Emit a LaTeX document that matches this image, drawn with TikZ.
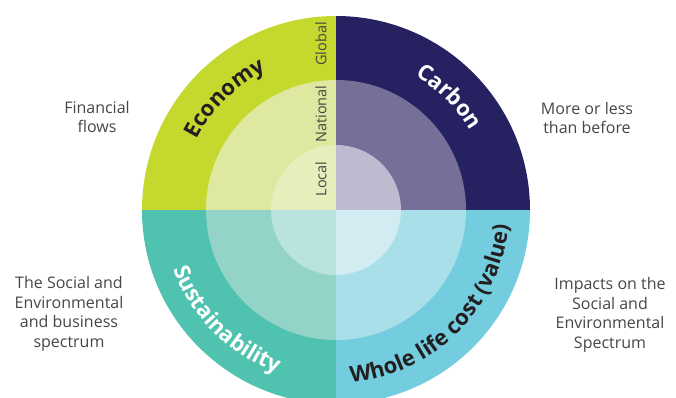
\documentclass[tikz,border=0pt]{standalone}
\usepackage{fontspec}
\setmainfont{Open Sans}
\usepackage{tikz}
\usetikzlibrary{decorations.text,positioning}
\definecolor{econouter}{RGB}{197,216,46}
\definecolor{econmid}{RGB}{223,232,160}
\definecolor{econinner}{RGB}{231,238,188}
\definecolor{carbouter}{RGB}{38,34,98}
\definecolor{carbmid}{RGB}{118,111,152}
\definecolor{carbinner}{RGB}{190,186,207}
\definecolor{sustouter}{RGB}{80,194,176}
\definecolor{sustmid}{RGB}{148,212,200}
\definecolor{sustinner}{RGB}{185,228,221}
\definecolor{wlcouter}{RGB}{115,205,222}
\definecolor{wlcmid}{RGB}{169,223,233}
\definecolor{wlcinner}{RGB}{210,236,241}
\definecolor{labeldark}{RGB}{35,31,32}
\definecolor{sidegrey}{RGB}{70,70,70}
\newcommand\arcfont{\bfseries\fontsize{22}{22}\selectfont}

\begin{document}
\begin{tikzpicture}[x=1pt,y=1pt]

    \tikzstyle{side}=[text=sidegrey, align=center, font=\fontsize{16}{19.5}\selectfont]
    \tikzstyle{level}=[text=sidegrey, rotate=90, font=\fontsize{14.5}{15}\selectfont]

    \useasboundingbox (-336,-187) rectangle (340,210);
    \clip (-336,-187) rectangle (340,210);

    % outer ring
    \fill[econouter] (0,0) -- (90:194) arc[start angle=90, end angle=180, radius=194] -- cycle;
    \fill[carbouter] (0,0) -- (0:194) arc[start angle=0, end angle=90, radius=194] -- cycle;
    \fill[sustouter] (0,0) -- (180:194) arc[start angle=180, end angle=270, radius=194] -- cycle;
    \fill[wlcouter] (0,0) -- (270:194) arc[start angle=270, end angle=360, radius=194] -- cycle;
    % middle ring
    \fill[econmid] (0,0) -- (90:130) arc[start angle=90, end angle=180, radius=130] -- cycle;
    \fill[carbmid] (0,0) -- (0:130) arc[start angle=0, end angle=90, radius=130] -- cycle;
    \fill[sustmid] (0,0) -- (180:130) arc[start angle=180, end angle=270, radius=130] -- cycle;
    \fill[wlcmid] (0,0) -- (270:130) arc[start angle=270, end angle=360, radius=130] -- cycle;
    % inner ring
    \fill[econinner] (0,0) -- (90:65) arc[start angle=90, end angle=180, radius=65] -- cycle;
    \fill[carbinner] (0,0) -- (0:65) arc[start angle=0, end angle=90, radius=65] -- cycle;
    \fill[sustinner] (0,0) -- (180:65) arc[start angle=180, end angle=270, radius=65] -- cycle;
    \fill[wlcinner] (0,0) -- (270:65) arc[start angle=270, end angle=360, radius=65] -- cycle;

    % quadrant titles
    \path[decorate, decoration={text along path, text align=center, text color=labeldark,
        text={|\arcfont|Economy}}] (180:156) arc[start angle=180, end angle=90, radius=156];
    \path[decorate, decoration={text along path, text align=center, text color=white,
        text={|\arcfont|Carbon}}] (90:156) arc[start angle=90, end angle=0, radius=156];
    \path[decorate, decoration={text along path, text align=center, text color=white,
        text={|\arcfont|Sustainability}}] (180:173) arc[start angle=180, end angle=270, radius=173];
    \path[decorate, decoration={text along path, text align=center, text color=labeldark,
        text={|\arcfont|Whole life cost (value)}}] (270:173) arc[start angle=270, end angle=360, radius=173];

    % scale labels
    \node[level] (global) at (-15,166) {Global};
    \node[level] (national) at (-15,96) {National};
    \node[level] (local) at (-15,31) {Local};

    % side notes
    \node[side] (flows) at (-239,93) {Financial\\flows};
    \node[side] (before) at (251,92) {More or less\\than before};
    \node[side] (business) at (-267,-104) {The Social and\\Environmental\\and business\\spectrum};
    \node[side] (impacts) at (274,-105) {Impacts on the\\Social and\\Environmental\\Spectrum};

\end{tikzpicture}
\end{document}
